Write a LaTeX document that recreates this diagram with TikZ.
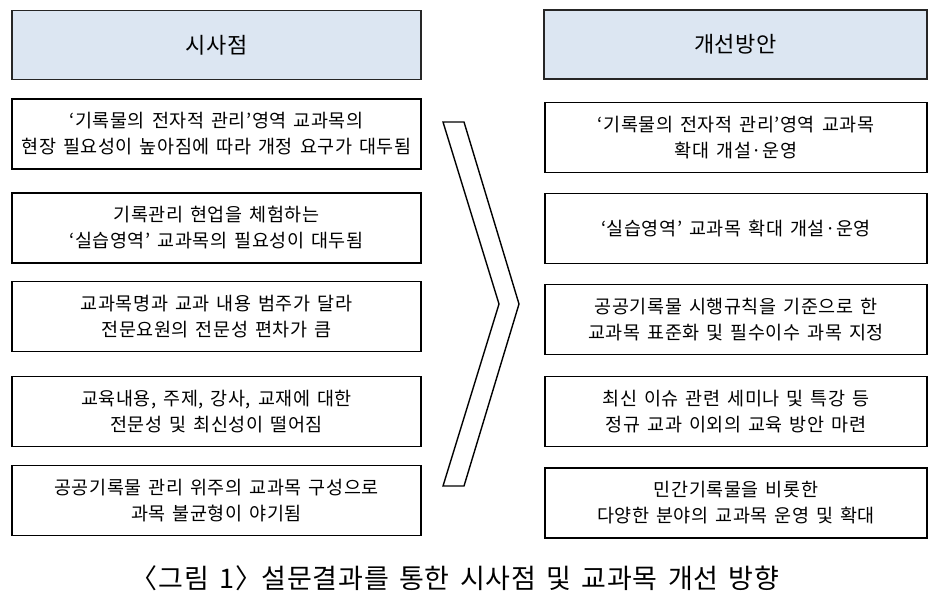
\documentclass[tikz,border=0pt]{standalone}
\usepackage{fontspec}
\setmainfont{Noto Sans CJK KR}
\newfontfamily\boxfont[LetterSpace=3,WordSpace=1.5]{Noto Sans CJK KR}
\definecolor{headfill}{RGB}{220,230,242}
\begin{document}
\begin{tikzpicture}[x=1pt,y=-1pt,
    headbox/.style={draw=black!85,line width=1.6pt,fill=headfill,
      minimum height=69pt,inner sep=0pt,font=\boxfont\fontsize{22}{26}\selectfont},
    itembox/.style={draw=black,line width=1.6pt,fill=white,minimum height=70pt,
      inner sep=0pt,align=center,font=\boxfont\fontsize{18.5}{26}\selectfont}]
  \useasboundingbox (0,0) rectangle (947,600);
  % headers
  \node[headbox,minimum width=409pt] (lhead) at (216.5,45) {시사점};
  \node[headbox,minimum width=383pt] (rhead) at (735.5,44.5) {개선방안};
  % left column
  \foreach \y/\txt [count=\i] in {
      134/{‘기록물의 전자적 관리’영역 교과목의\\현장 필요성이 높아짐에 따라 개정 요구가 대두됨},
      228/{기록관리 현업을 체험하는\\‘실습영역’ 교과목의 필요성이 대두됨},
      316.5/{교과목명과 교과 내용 범주가 달라\\전문요원의 전문성 편차가 큼},
      411.5/{교육내용, 주제, 강사, 교재에 대한\\전문성 및 최신성이 떨어짐},
      500.5/{공공기록물 관리 위주의 교과목 구성으로\\과목 불균형이 야기됨}} {
    \node[itembox,minimum width=409pt] (l\i) at (216.5,\y) {\txt};
  }
  % right column
  \foreach \y/\txt [count=\i] in {
      137.5/{‘기록물의 전자적 관리’영역 교과목\\확대 개설·운영},
      228.5/{‘실습영역’ 교과목 확대 개설·운영},
      319.5/{공공기록물 시행규칙을 기준으로 한\\교과목 표준화 및 필수이수 과목 지정},
      411.5/{최신 이슈 관련 세미나 및 특강 등\\정규 교과 이외의 교육 방안 마련},
      503/{민간기록물을 비롯한\\다양한 분야의 교과목 운영 및 확대}} {
    \node[itembox,minimum width=382pt] (r\i) at (736,\y) {\txt};
  }
  % chevron
  \draw[line width=1.4pt,line join=miter] (443,122) -- (464,122) -- (519,304)
    -- (464,486) -- (443,486) -- (499,304) -- cycle;
  \node[font=\boxfont\fontsize{27}{30}\selectfont] (cap) at (455,578)
    {〈그림 1〉\kern-0.4em{} 설문결과를 통한 시사점 및 교과목 개선 방향};
\end{tikzpicture}
\end{document}
